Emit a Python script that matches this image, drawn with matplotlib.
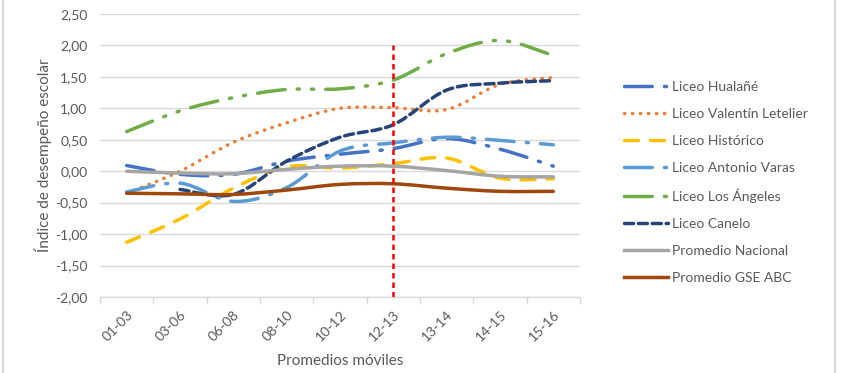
import numpy as np
import matplotlib

matplotlib.use("Agg")
import matplotlib.pyplot as plt
from matplotlib.path import Path
from matplotlib.patches import PathPatch
from matplotlib.lines import Line2D

plt.rcParams["font.family"] = ["Lato", "DejaVu Sans"]

# Data
categories = ["01-03", "03-06", "06-08", "08-10", "10-12", "12-13", "13-14", "14-15", "15-16"]
hualane = [0.09, -0.05, -0.05, 0.16, 0.27, 0.36, 0.52, 0.35, 0.08]
valentin = [-0.35, 0.00, 0.46, 0.77, 1.00, 1.01, 0.98, 1.38, 1.49]
historico = [-1.13, -0.76, -0.27, 0.07, 0.05, 0.12, 0.21, -0.11, -0.12]
antonio_varas = [-0.33, -0.19, -0.48, -0.26, 0.32, 0.45, 0.54, 0.49, 0.42]
los_angeles = [0.63, 0.96, 1.17, 1.30, 1.31, 1.45, 1.87, 2.08, 1.84]
canelo = [np.nan, -0.29, -0.37, 0.16, 0.54, 0.74, 1.29, 1.40, 1.44]
nacional = [0.00, -0.03, -0.04, 0.03, 0.08, 0.08, 0.01, -0.08, -0.09]
gse_abc = [-0.35, -0.36, -0.37, -0.30, -0.21, -0.20, -0.27, -0.32, -0.32]

series_labels = [
    "Liceo Hualañé",
    "Liceo Valentín Letelier",
    "Liceo Histórico",
    "Liceo Antonio Varas",
    "Liceo Los Ángeles",
    "Liceo Canelo",
    "Promedio Nacional",
    "Promedio GSE ABC",
]
cut_category = "12-13"

TEXT = "#595959"
GRID = "#D9D9D9"

styles = [
    dict(color="#4472C4", ls=(0, (8, 3.5, 0.6, 3.5))),
    dict(color="#ED7D31", ls=(0, (0.1, 2.2))),
    dict(color="#FFC000", ls=(0, (4, 3.5))),
    dict(color="#5B9BD5", ls=(0, (8, 3.5, 0.6, 3.5))),
    dict(color="#70AD47", ls=(0, (8, 3.5, 0.6, 3.5, 0.6, 3.5))),
    dict(color="#264478", ls=(0, (2.6, 1.4))),
    dict(color="#A5A5A5", ls="-"),
    dict(color="#9E480E", ls="-"),
]


def smooth_path(xs, ys):
    # Catmull-Rom style smoothing turned into cubic Bezier segments (like Excel)
    pts = [(x, y) for x, y in zip(xs, ys) if not np.isnan(y)]
    pts = np.array(pts, dtype=float)
    verts = [pts[0]]
    codes = [Path.MOVETO]
    n = len(pts)
    for i in range(n - 1):
        p0 = pts[i - 1] if i > 0 else pts[i]
        p1 = pts[i]
        p2 = pts[i + 1]
        p3 = pts[i + 2] if i + 2 < n else pts[i + 1]
        c1 = p1 + (p2 - p0) / 6.0
        c2 = p2 - (p3 - p1) / 6.0
        verts += [c1, c2, p2]
        codes += [Path.CURVE4] * 3
    return Path(verts, codes)


def main():
    fig = plt.figure(figsize=(8.42, 3.73), dpi=100)
    ax = fig.add_axes([0.1188, 0.2038, 0.570, 0.7587])

    x = np.arange(len(categories))
    all_series = [hualane, valentin, historico, antonio_varas,
                  los_angeles, canelo, nacional, gse_abc]

    handles = []
    for vals, st, label in zip(all_series, styles, series_labels):
        patch = PathPatch(smooth_path(x, vals), fill=False, edgecolor=st["color"],
                          linewidth=2.5, linestyle=st["ls"], zorder=3)
        patch.set_capstyle("round")
        ax.add_patch(patch)
        h = Line2D([], [], color=st["color"], linewidth=2.5, linestyle=st["ls"],
                   dash_capstyle="round", label=label)
        handles.append(h)

    # Vertical cut line
    xc = categories.index(cut_category)
    ax.plot([xc, xc], [-2.0, 2.0], color="#FF0000", linestyle=(0, (2.2, 1.6)),
            linewidth=1.8, zorder=4)

    ax.set_xlim(-0.5, len(categories) - 0.5)
    ax.set_ylim(-2.0, 2.5)
    ax.set_yticks(np.arange(-2.0, 2.51, 0.5))
    ax.set_yticklabels([f"{v:.2f}".replace(".", ",") for v in np.arange(-2.0, 2.51, 0.5)])
    ax.set_xticks(x)
    ax.set_xticklabels(categories, rotation=45, ha="right", va="top",
                       rotation_mode="anchor")
    ax.set_xticks(np.arange(-0.5, len(categories)), minor=True)

    ax.grid(axis="y", color=GRID, linewidth=1, zorder=0)
    ax.set_axisbelow(True)
    for side in ["left", "right", "top"]:
        ax.spines[side].set_visible(False)
    ax.spines["bottom"].set_color(GRID)
    ax.spines["bottom"].set_linewidth(1)

    ax.tick_params(axis="y", length=0, pad=9, labelsize=10, labelcolor=TEXT)
    ax.tick_params(axis="x", which="major", length=0, pad=8, labelsize=10, labelcolor=TEXT)
    ax.tick_params(axis="x", which="minor", length=5, color=GRID, width=1)

    fig.text(340 / 842, 1 - 361 / 373, "Promedios móviles", ha="center", va="center",
             fontsize=11, color=TEXT)
    fig.text(43 / 842, 1 - 155 / 373, "Índice de desempeño escolar", ha="center",
             va="center", rotation=90, fontsize=11, color=TEXT)

    fig.legend(handles=handles, loc="upper left", bbox_to_anchor=(624 / 842, 1 - 81 / 373),
               frameon=False, fontsize=10, labelcolor=TEXT, handlelength=3.2,
               handletextpad=0.25, labelspacing=1.07, borderpad=0, borderaxespad=0)

    # Light chart frame on the sides
    fig.add_artist(Line2D([3 / 842, 3 / 842], [0, 1], color=GRID, linewidth=1.5,
                          transform=fig.transFigure))
    fig.add_artist(Line2D([835 / 842, 835 / 842], [0, 1], color=GRID, linewidth=1.5,
                          transform=fig.transFigure))

    fig.savefig("out.png", dpi=100)


if __name__ == "__main__":
    main()
